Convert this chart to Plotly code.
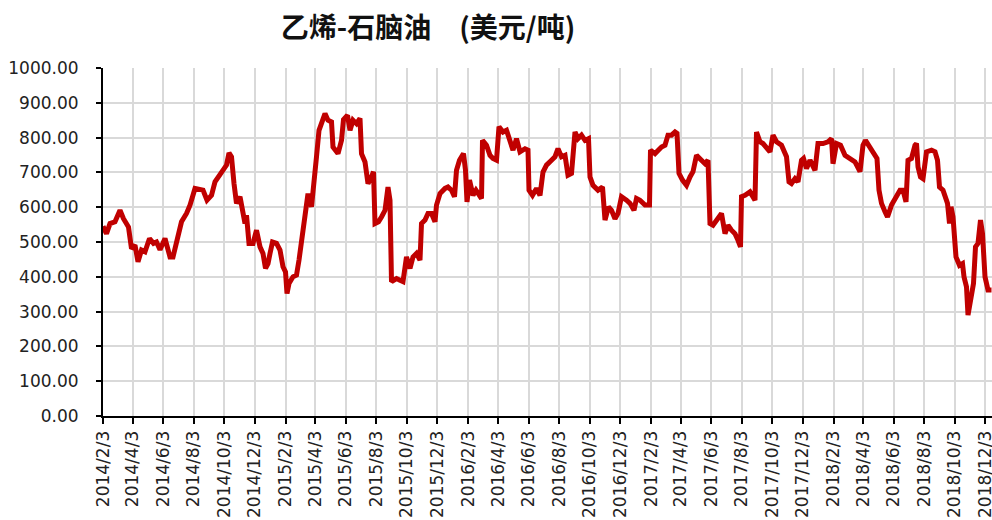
import plotly.graph_objects as go

dates = [
    "2014-02-03", "2014-02-10", "2014-02-17", "2014-02-27", "2014-03-09", "2014-03-16", "2014-03-26",
    "2014-04-01", "2014-04-08", "2014-04-14", "2014-04-21", "2014-04-28", "2014-05-07", "2014-05-15",
    "2014-05-21", "2014-05-28", "2014-06-07", "2014-06-17", "2014-06-23", "2014-07-03", "2014-07-10",
    "2014-07-20", "2014-07-27", "2014-08-06", "2014-08-16", "2014-08-22", "2014-08-30", "2014-09-08",
    "2014-09-15", "2014-09-25", "2014-10-01", "2014-10-08", "2014-10-13", "2014-10-18", "2014-10-23",
    "2014-10-28", "2014-11-04", "2014-11-09", "2014-11-14", "2014-11-17", "2014-11-22", "2014-11-30",
    "2014-12-07", "2014-12-14", "2014-12-20", "2014-12-25", "2014-12-30", "2015-01-03", "2015-01-08",
    "2015-01-16", "2015-01-23", "2015-01-29", "2015-02-03", "2015-02-06", "2015-02-10", "2015-02-18",
    "2015-02-25", "2015-03-02", "2015-03-07", "2015-03-14", "2015-03-20", "2015-03-27", "2015-04-03",
    "2015-04-06", "2015-04-11", "2015-04-16", "2015-04-23", "2015-04-29", "2015-05-06", "2015-05-09",
    "2015-05-19", "2015-05-26", "2015-05-30", "2015-06-07", "2015-06-12", "2015-06-18", "2015-06-25",
    "2015-07-02", "2015-07-05", "2015-07-12", "2015-07-18", "2015-07-25", "2015-07-29", "2015-08-01",
    "2015-08-08", "2015-08-14", "2015-08-21", "2015-08-27", "2015-08-31", "2015-09-03", "2015-09-13",
    "2015-09-20", "2015-09-26", "2015-10-03", "2015-10-10", "2015-10-16", "2015-10-23", "2015-10-30",
    "2015-11-02", "2015-11-09", "2015-11-15", "2015-11-22", "2015-11-29", "2015-12-02", "2015-12-09",
    "2015-12-19", "2015-12-25", "2016-01-01", "2016-01-07", "2016-01-11", "2016-01-17", "2016-01-25",
    "2016-01-29", "2016-02-01", "2016-02-06", "2016-02-13", "2016-02-19", "2016-03-01", "2016-03-03",
    "2016-03-11", "2016-03-18", "2016-03-24", "2016-03-31", "2016-04-05", "2016-04-13", "2016-04-20",
    "2016-04-27", "2016-05-03", "2016-05-10", "2016-05-17", "2016-05-27", "2016-06-02", "2016-06-04",
    "2016-06-11", "2016-06-19", "2016-06-26", "2016-07-02", "2016-07-09", "2016-07-19", "2016-07-26",
    "2016-08-01", "2016-08-08", "2016-08-15", "2016-08-21", "2016-08-28", "2016-09-04", "2016-09-10",
    "2016-09-17", "2016-09-24", "2016-10-01", "2016-10-04", "2016-10-10", "2016-10-20", "2016-10-29",
    "2016-11-03", "2016-11-10", "2016-11-16", "2016-11-23", "2016-11-29", "2016-12-06", "2016-12-16",
    "2016-12-23", "2016-12-31", "2017-01-05", "2017-01-12", "2017-01-22", "2017-01-31", "2017-02-02",
    "2017-02-11", "2017-02-17", "2017-02-24", "2017-03-03", "2017-03-09", "2017-03-16", "2017-03-23",
    "2017-03-27", "2017-03-31", "2017-04-07", "2017-04-15", "2017-04-22", "2017-04-28", "2017-05-05",
    "2017-05-15", "2017-05-22", "2017-05-28", "2017-06-01", "2017-06-07", "2017-06-17", "2017-06-24",
    "2017-07-01", "2017-07-07", "2017-07-14", "2017-07-21", "2017-07-27", "2017-08-01", "2017-08-03",
    "2017-08-10", "2017-08-20", "2017-08-30", "2017-09-02", "2017-09-09", "2017-09-15", "2017-09-22",
    "2017-09-29", "2017-10-05", "2017-10-12", "2017-10-22", "2017-11-01", "2017-11-06", "2017-11-11",
    "2017-11-18", "2017-11-24", "2017-12-01", "2017-12-05", "2017-12-11", "2017-12-18", "2017-12-28",
    "2018-01-03", "2018-01-13", "2018-01-23", "2018-01-30", "2018-02-02", "2018-02-09", "2018-02-17",
    "2018-02-26", "2018-03-08", "2018-03-18", "2018-03-28", "2018-04-03", "2018-04-08", "2018-04-16",
    "2018-04-26", "2018-05-01", "2018-05-05", "2018-05-10", "2018-05-17", "2018-05-22", "2018-05-30",
    "2018-06-09", "2018-06-16", "2018-06-22", "2018-06-28", "2018-07-02", "2018-07-09", "2018-07-16",
    "2018-07-19", "2018-07-22", "2018-07-27", "2018-08-01", "2018-08-08", "2018-08-18", "2018-08-25",
    "2018-08-30", "2018-09-03", "2018-09-10", "2018-09-14", "2018-09-19", "2018-09-23", "2018-09-26",
    "2018-09-30", "2018-10-02", "2018-10-06", "2018-10-13", "2018-10-19", "2018-10-22", "2018-10-27",
    "2018-10-30", "2018-11-03", "2018-11-07", "2018-11-10", "2018-11-14", "2018-11-19", "2018-11-24",
    "2018-11-28", "2018-12-03", "2018-12-09", "2018-12-16",
]

spread = [
    545, 524, 553, 558, 591, 567, 543,
    481, 491, 443, 477, 472, 510, 496,
    500, 478, 510, 457, 457, 515, 558,
    582, 606, 654, 649, 649, 620, 634,
    673, 692, 706, 721, 756, 745, 668,
    611, 630, 591, 553, 577, 496, 496,
    534, 486, 467, 424, 438, 467, 500,
    496, 477, 429, 414, 352, 381, 400,
    405, 448, 505, 572, 639, 601, 735,
    745, 821, 840, 869, 850, 845, 773,
    754, 792, 852, 864, 821, 850, 840,
    855, 754, 730, 668, 687, 702, 553,
    558, 572, 591, 658, 620, 386, 395,
    390, 386, 457, 424, 457, 467, 448,
    553, 563, 582, 582, 558, 606, 639,
    654, 658, 649, 630, 706, 735, 754,
    706, 615, 678, 634, 649, 625, 792,
    778, 749, 740, 735, 831, 816, 821,
    792, 764, 797, 759, 768, 764, 649,
    634, 654, 634, 701, 721, 735, 745,
    768, 745, 749, 692, 697, 816, 797,
    807, 792, 797, 687, 663, 649, 658,
    563, 601, 591, 567, 582, 630, 620,
    611, 591, 625, 620, 606, 606, 764,
    754, 764, 773, 778, 807, 807, 816,
    812, 697, 678, 663, 687, 702, 749,
    735, 725, 735, 553, 548, 567, 582,
    524, 548, 534, 524, 505, 486, 630,
    634, 644, 620, 816, 788, 783, 768,
    759, 807, 788, 778, 745, 673, 668,
    682, 673, 735, 740, 711, 735, 706,
    783, 783, 788, 797, 725, 783, 778,
    749, 740, 730, 702, 778, 792, 773,
    749, 740, 649, 611, 587, 572, 606,
    630, 649, 649, 615, 735, 740, 778,
    783, 716, 687, 682, 759, 764, 759,
    735, 658, 649, 630, 611, 553, 601,
    572, 515, 457, 433, 438, 400, 371,
    290, 323, 371, 381, 486, 496, 563,
    524, 400, 362, 362,
]

tick_dates = [
    "2014-02-03", "2014-04-03", "2014-06-03", "2014-08-03", "2014-10-03", "2014-12-03",
    "2015-02-03", "2015-04-03", "2015-06-03", "2015-08-03", "2015-10-03", "2015-12-03",
    "2016-02-03", "2016-04-03", "2016-06-03", "2016-08-03", "2016-10-03", "2016-12-03",
    "2017-02-03", "2017-04-03", "2017-06-03", "2017-08-03", "2017-10-03", "2017-12-03",
    "2018-02-03", "2018-04-03", "2018-06-03", "2018-08-03", "2018-10-03", "2018-12-03",
]
tick_labels = [
    "2014/2/3", "2014/4/3", "2014/6/3", "2014/8/3", "2014/10/3", "2014/12/3",
    "2015/2/3", "2015/4/3", "2015/6/3", "2015/8/3", "2015/10/3", "2015/12/3",
    "2016/2/3", "2016/4/3", "2016/6/3", "2016/8/3", "2016/10/3", "2016/12/3",
    "2017/2/3", "2017/4/3", "2017/6/3", "2017/8/3", "2017/10/3", "2017/12/3",
    "2018/2/3", "2018/4/3", "2018/6/3", "2018/8/3", "2018/10/3", "2018/12/3",
]

y_ticks = [0, 100, 200, 300, 400, 500, 600, 700, 800, 900, 1000]
y_labels = ["0.00", "100.00", "200.00", "300.00", "400.00", "500.00",
            "600.00", "700.00", "800.00", "900.00", "1000.00"]

fig = go.Figure()
fig.add_trace(go.Scatter(
    x=dates, y=spread, mode="lines",
    line=dict(color="#C00000", width=5),
    showlegend=False, hoverinfo="x+y",
))

fig.update_layout(
    width=992, height=520,
    margin=dict(l=103, r=0, t=68, b=104, autoexpand=False),
    paper_bgcolor="white", plot_bgcolor="white",
    font=dict(family="DejaVu Sans, sans-serif", color="#222222"),
    title=dict(
        text="<b>乙烯-石脑油　(美元/吨)</b>",
        x=0.4315, xanchor="center", xref="container",
        y=0.946, yanchor="middle", yref="container",
        font=dict(family="Noto Sans CJK SC", size=28, color="#111111"),
    ),
)

fig.update_xaxes(
    type="date",
    range=["2014-02-03", "2018-12-17"],
    tickmode="array", tickvals=tick_dates, ticktext=tick_labels,
    tickangle=-90, tickfont=dict(family="DejaVu Sans", size=17, color="#222222"),
    ticklabeloverflow="allow",
    showgrid=True, gridcolor="#D9D9D9", gridwidth=2,
    showline=True, linecolor="black", linewidth=2,
    ticks="outside", ticklen=6, tickwidth=2, tickcolor="black",
    zeroline=False, fixedrange=True, automargin=False,
)
fig.update_yaxes(
    range=[0, 1000],
    tickmode="array", tickvals=y_ticks, ticktext=y_labels,
    tickfont=dict(family="DejaVu Sans", size=17, color="#222222"),
    showgrid=True, gridcolor="#D9D9D9", gridwidth=2,
    showline=True, linecolor="black", linewidth=2,
    ticks="outside", ticklen=5, tickwidth=2, tickcolor="black",
    ticklabelstandoff=14,
    zeroline=False, fixedrange=True, automargin=False,
)

fig.write_html(
    "out.html",
    config={"displayModeBar": False},
    post_script="document.body.style.margin='0';document.body.style.overflow='hidden';",
)
